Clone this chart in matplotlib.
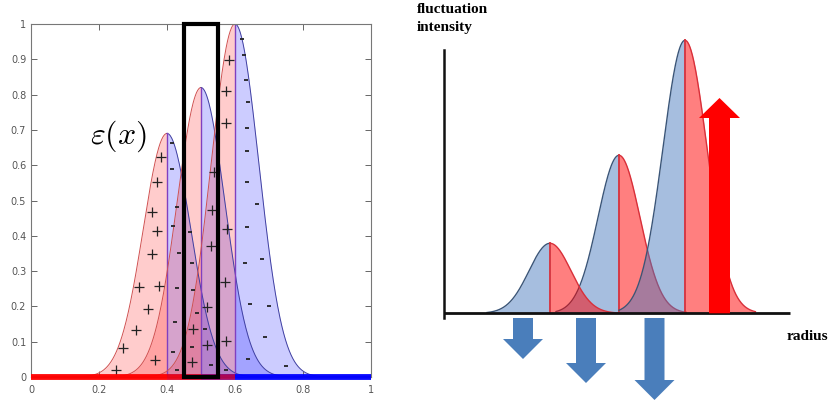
import numpy as np
import matplotlib.pyplot as plt
from matplotlib.patches import Rectangle

plt.rcParams["mathtext.fontset"] = "cm"

# ---------------- left panel data ----------------
peak_pos = [0.4, 0.5, 0.6]
peak_amp = [0.69, 0.82, 1.0]
peak_sig = 0.07
box_x = (0.45, 0.55)

xticks = [0, 0.2, 0.4, 0.6, 0.8, 1]
xtick_labels = ["0", "0.2", "0.4", "0.6", "0.8", "1"]
yticks = [0, 0.1, 0.2, 0.3, 0.4, 0.5, 0.6, 0.7, 0.8, 0.9, 1]
ytick_labels = ["0", "0.1", "0.2", "0.3", "0.4", "0.5", "0.6", "0.7", "0.8", "0.9", "1"]

# "+" signs sit in the red halves, "-" signs in the blue halves
plus_x = [0.382, 0.370, 0.357, 0.372, 0.355, 0.319, 0.377, 0.345, 0.309, 0.272, 0.366, 0.249,
          0.475, 0.473, 0.519, 0.517, 0.538, 0.531, 0.528, 0.576, 0.571, 0.574, 0.582, 0.575, 0.573]
plus_y = [0.623, 0.551, 0.468, 0.413, 0.348, 0.255, 0.258, 0.194, 0.132, 0.083, 0.049, 0.019,
          0.135, 0.043, 0.199, 0.090, 0.582, 0.473, 0.371, 0.419, 0.270, 0.101, 0.899, 0.811, 0.719]
minus_x = [0.416, 0.416, 0.428, 0.417, 0.436, 0.428, 0.424, 0.419, 0.428,
           0.468, 0.473, 0.475, 0.487, 0.512, 0.473, 0.529, 0.574,
           0.620, 0.626, 0.632, 0.639, 0.636, 0.636, 0.636, 0.666, 0.636, 0.629, 0.680,
           0.644, 0.700, 0.688, 0.637, 0.750]
minus_y = [0.664, 0.590, 0.483, 0.428, 0.352, 0.251, 0.156, 0.071, 0.019,
           0.412, 0.322, 0.246, 0.182, 0.135, 0.085, 0.033, 0.019,
           0.958, 0.913, 0.842, 0.779, 0.705, 0.639, 0.552, 0.489, 0.426, 0.324, 0.333,
           0.208, 0.201, 0.114, 0.050, 0.030]

# ---------------- right panel data (schematic units) ----------------
bump_pos = [1.06, 1.75, 2.41]
bump_amp = [0.70, 1.58, 2.73]
bump_sig = [0.21, 0.21, 0.22]
down_x = [0.79, 1.42, 2.105]
down_tip = [-0.457, -0.697, -0.867]
up_x = 2.755
up_tip = 2.153


def gauss(x, mu, a, s):
    return a * np.exp(-0.5 * ((x - mu) / s) ** 2)


fig = plt.figure(figsize=(8.34, 4.05), dpi=100)

# ================= left: eps(x) =================
ax = fig.add_axes([31 / 834, 28 / 405, 340 / 834, 353 / 405])
for mu, a in zip(peak_pos, peak_amp):
    xl = np.linspace(0, mu, 300)
    xr = np.linspace(mu, 1, 300)
    ax.fill_between(xl, gauss(xl, mu, a, peak_sig), color="red", alpha=0.2, lw=0)
    ax.fill_between(xr, gauss(xr, mu, a, peak_sig), color="blue", alpha=0.2, lw=0)
    ax.plot(xl, gauss(xl, mu, a, peak_sig), color="#d05050", lw=0.7)
    ax.plot(xr, gauss(xr, mu, a, peak_sig), color="#4040a0", lw=0.7)
    ax.plot([mu, mu], [0, a], color="#8040c0", lw=1.0)
    ax.plot([0, mu], [0, 0], color="red", lw=4, alpha=0.65, solid_capstyle="butt",
            clip_on=False, zorder=4)
    ax.plot([mu, 1], [0, 0], color="blue", lw=4, alpha=0.65, solid_capstyle="butt",
            clip_on=False, zorder=4)

ax.plot(plus_x, plus_y, ls="none", marker="+", ms=7, mew=0.9, color="#222222")
ax.plot(minus_x, minus_y, ls="none", marker="_", ms=3, mew=1.3, color="#222222")

ax.add_patch(Rectangle((box_x[0], 0), box_x[1] - box_x[0], 1.0, fill=False,
                       edgecolor="black", lw=3, clip_on=False, zorder=5))
ax.text(0.256, 0.683, r"$\varepsilon(x)$", fontsize=23, ha="center", va="center")

ax.set_xlim(0, 1)
ax.set_ylim(0, 1)
ax.set_xticks(xticks)
ax.set_xticklabels(xtick_labels)
ax.set_yticks(yticks)
ax.set_yticklabels(ytick_labels)
ax.tick_params(direction="in", length=4, width=0.7, colors="#666666", labelsize=7,
               top=True, right=True, labelcolor="#555555")
ax.tick_params(axis="x", pad=6)
for sp in ax.spines.values():
    sp.set_color("#777777")
    sp.set_linewidth(0.8)

# ================= right: schematic =================
ax2 = fig.add_axes([420 / 834, 0, 414 / 834, 1])
ax2.set_xlim(-0.24, 3.90)
ax2.set_ylim(-0.917, 3.133)
ax2.axis("off")

blue_fc = (70 / 255, 120 / 255, 190 / 255)
blue_ec = "#3a5578"
red_ec = "#d8303a"
zb = [2, 1, 3]   # draw order of blue halves
zr = [2.5, 1.5, 3.5]
for i, (mu, a, s) in enumerate(zip(bump_pos, bump_amp, bump_sig)):
    xl = np.linspace(mu - 3.0 * s, mu, 200)
    xr = np.linspace(mu, mu + 3.2 * s, 200)
    ax2.fill_between(xl, gauss(xl, mu, a, s), color=blue_fc, alpha=0.48, lw=0, zorder=zb[i])
    ax2.plot(xl, gauss(xl, mu, a, s), color=blue_ec, lw=1.0, zorder=zb[i] + 0.1)
    ax2.fill_between(xr, gauss(xr, mu, a, s), color="red", alpha=0.5, lw=0, zorder=zr[i])
    ax2.plot(xr, gauss(xr, mu, a, s), color=red_ec, lw=1.0, zorder=zr[i] + 0.1)
    ax2.plot([mu, mu], [0, a], color=red_ec, lw=1.3, zorder=zr[i] + 0.1)

# axes lines
ax2.plot([0, 3.46], [0, 0], color="#111111", lw=2, zorder=6, solid_capstyle="butt")
ax2.plot([0, 0], [-0.05, 2.63], color="#111111", lw=1.8, zorder=6)

# arrows
for xc, tip in zip(down_x, down_tip):
    ax2.arrow(xc, -0.047, 0, tip + 0.047, width=0.20, head_width=0.40, head_length=0.20,
              length_includes_head=True, color="#4a7ebb", lw=0, zorder=7)
ax2.arrow(up_x, 0, 0, up_tip, width=0.21, head_width=0.41, head_length=0.20,
          length_includes_head=True, color="#ff0000", lw=0, zorder=7)

fig.text(417 / 834, 1 - 3 / 405, "fluctuation\nintensity", fontsize=11, fontweight="bold",
         family="Liberation Serif", ha="left", va="top", linespacing=1.45)
fig.text(787 / 834, 1 - 337 / 405, "radius", fontsize=11, fontweight="bold",
         family="Liberation Serif", ha="left", va="center")

fig.savefig("out.png", dpi=100)
